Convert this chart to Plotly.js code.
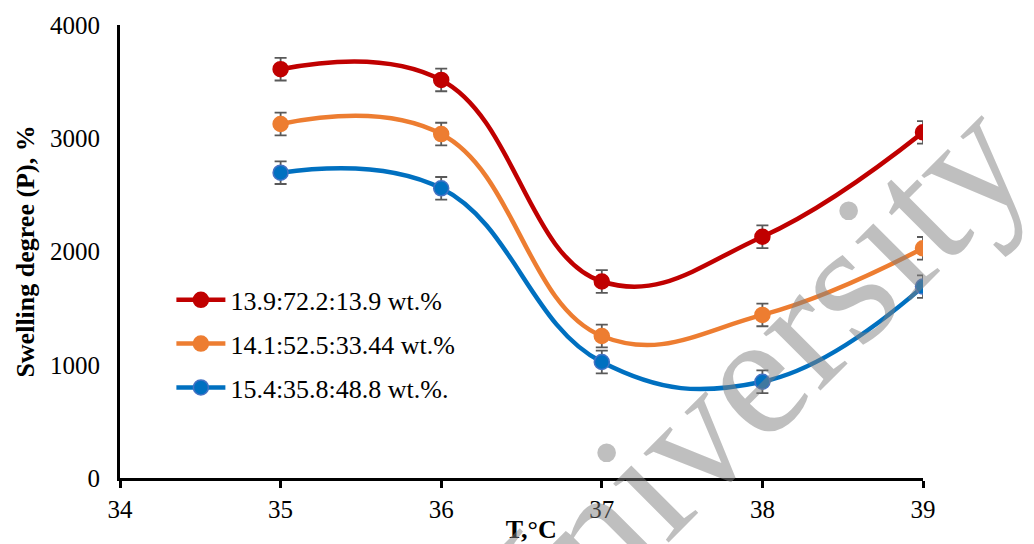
<!DOCTYPE html>
<html>
<head>
<meta charset="utf-8">
<script src="https://cdn.plot.ly/plotly-3.0.1.min.js"></script>
<style>html,body{margin:0;padding:0;background:#fff;}#chart{width:1034px;height:544px;}</style>
</head>
<body>
<div id="chart"></div>
<script>
const temperature = [35, 36, 37, 38, 39];
const seriesNames = ["13.9:72.2:13.9 wt.%", "14.1:52.5:33.44 wt.%", "15.4:35.8:48.8 wt.%."];
const swellingRed = [3610, 3515, 1735, 2130, 3052];
const swellingOrange = [3126, 3037, 1254, 1440, 2028];
const swellingBlue = [2696, 2558, 1024, 850, 1690];
const errRed = [100, 100, 100, 100, 100];
const errOrange = [100, 100, 100, 100, 100];
const errBlue = [100, 100, 100, 100, 100];
const xTicks = [34, 35, 36, 37, 38, 39];
const yTicks = [0, 1000, 2000, 3000, 4000];

const serif = "'Liberation Serif', 'Times New Roman', Times, serif";
function mk(name, y, err, color, mline) {
  return {
    x: temperature, y: y, name: name, type: "scatter", mode: "lines+markers",
    line: {color: color, width: 4.5, shape: "spline", smoothing: 1.2},
    marker: {color: color, size: 15, line: {color: mline, width: 1.5}},
    error_y: {type: "data", array: err, visible: true, color: "#595959", thickness: 1.8, width: 6},
    legendgroup: name
  };
}
const data = [
  mk(seriesNames[0], swellingRed, errRed, "#C00000", "#C00000"),
  mk(seriesNames[1], swellingOrange, errOrange, "#ED7D31", "#ED7D31"),
  mk(seriesNames[2], swellingBlue, errBlue, "#0070C0", "#4472C4")
];
const layout = {
  width: 1034, height: 544,
  margin: {l: 120, r: 111, t: 25, b: 66},
  paper_bgcolor: "#fff", plot_bgcolor: "#fff",
  font: {family: serif, color: "#000", size: 25},
  showlegend: true,
  legend: {x: 0.064, y: 0.445, xanchor: "left", yanchor: "top", bgcolor: "rgba(0,0,0,0)",
    font: {family: serif, size: 26, color: "#000"}, traceorder: "grouped", tracegroupgap: 7, itemwidth: 49},
  xaxis: {
    range: [34, 39], tickvals: xTicks, ticktext: xTicks.map(String),
    showgrid: false, zeroline: false, showline: true, linecolor: "#000", linewidth: 3,
    ticks: "outside", ticklen: 7, tickwidth: 3, tickcolor: "#000",
    tickfont: {family: serif, size: 25, color: "#000"},
    title: {text: "&nbsp;&nbsp;&nbsp;<b>T,°C</b>", font: {family: serif, size: 26, color: "#000"}, standoff: 2}
  },
  yaxis: {
    range: [0, 4000], tickvals: yTicks, ticktext: yTicks.map(String),
    showgrid: false, zeroline: false, showline: true, linecolor: "#000", linewidth: 3,
    ticks: "outside", ticklen: 12, tickcolor: "rgba(0,0,0,0)",
    tickfont: {family: serif, size: 25, color: "#000"},
    title: {text: "<b>Swelling degree (P), %</b>", font: {family: serif, size: 26, color: "#000"}, standoff: 8}
  },
  annotations: [{
    text: "University", xref: "paper", yref: "paper", x: 0.765, y: 0.189,
    xanchor: "center", yanchor: "middle", showarrow: false, textangle: -45,
    font: {family: serif, size: 176, color: "rgba(128,128,128,0.5)"}
  }]
};
Plotly.newPlot("chart", data, layout, {displayModeBar: false, staticPlot: true});
</script>
</body>
</html>
